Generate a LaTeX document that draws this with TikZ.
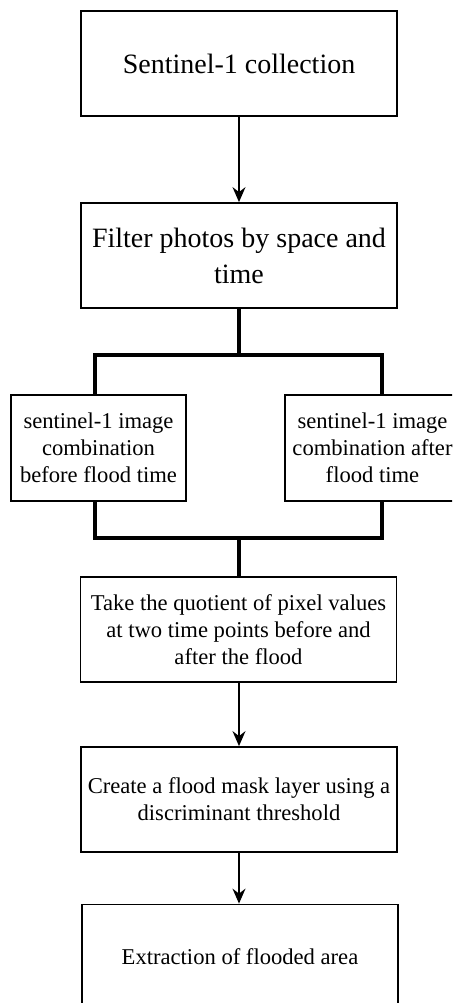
\documentclass[tikz,border=0pt]{standalone}
\usepackage{fontspec}
\setmainfont{Liberation Serif}
\usetikzlibrary{arrows.meta, positioning}

\begin{document}
\begin{tikzpicture}[x=0.5pt, y=-0.5pt, >={Stealth[length=7.5pt, width=6.5pt, inset=2.5pt]},
  box/.style={draw, line width=0.9pt, minimum width=158pt, minimum height=52.5pt, align=center, inner sep=2pt},
  bigtxt/.style={font=\fontsize{14}{18}\selectfont},
  smalltxt/.style={font=\fontsize{11.3}{13.5}\selectfont},
  sidebox/.style={box, smalltxt, minimum width=87.5pt, minimum height=53pt},
  flow/.style={->, line width=0.8pt},
  merge/.style={line width=2pt}]
  \path[use as bounding box, clip] (0,0) rectangle (452,1003);

  % Collection
  \node[box, bigtxt] (coll) at (239,63.5) {Sentinel-1 collection};
  \node[box, bigtxt] (filt) at (239,255.5) {Filter photos by space and\\ time};
  \draw[flow] (coll) -- (filt);

  % Avant / apres
  \node[sidebox] (before) at (98.5,448) {sentinel-1 image\\ combination\\ before flood time};
  \node[sidebox] (after) at (372.5,448) {sentinel-1 image\\ combination after\\ flood time};
  \coordinate (forkTop) at (239,355);
  \coordinate (forkL) at (95,355);
  \coordinate (forkR) at (382,355);
  \draw[merge] (filt.south) -- (forkTop);
  \draw[merge] (before.north -| forkL) |- (forkTop) -| (after.north -| forkR);

  % Quotient
  \node[box, smalltxt] (quot) at (238.5,629.5) {Take the quotient of pixel values\\ at two time points before and\\ after the flood};
  \coordinate (joinBot) at (239,538);
  \coordinate (joinL) at (95,538);
  \coordinate (joinR) at (382,538);
  \draw[merge] (before.south -| joinL) |- (joinBot) -| (after.south -| joinR);
  \draw[merge] (joinBot) -- (quot.north -| joinBot);

  % Masque et surface
  \node[box, smalltxt] (mask) at (239,799.5) {Create a flood mask layer using a\\ discriminant threshold};
  \node[box, smalltxt] (area) at (240,957) {Extraction of flooded area};
  \draw[flow] (quot.south -| mask) -- (mask);
  \draw[flow] (mask) -- (area.north -| mask);
\end{tikzpicture}
\end{document}
